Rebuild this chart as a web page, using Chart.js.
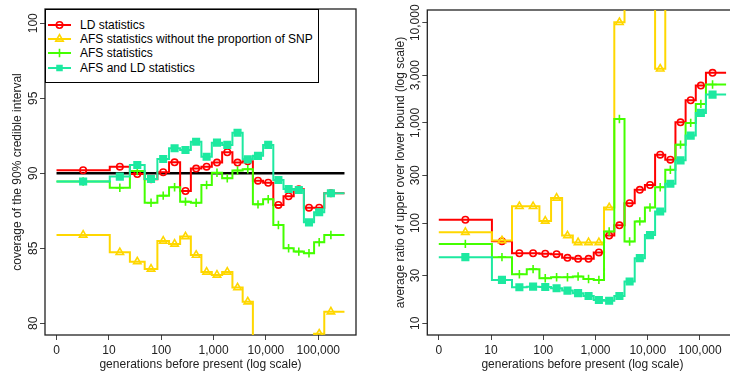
<!DOCTYPE html>
<html>
<head>
<meta charset="utf-8">
<script src="https://cdn.jsdelivr.net/npm/chart.js@4.4.1/dist/chart.umd.min.js"></script>
<style>
  html, body { margin: 0; padding: 0; width: 730px; height: 375px; overflow: hidden; background: #fff; }
  #left { position: absolute; left: 0; top: 0; }
  #right { position: absolute; left: 365px; top: 0; }
  #legend {
    position: absolute; left: 45px; top: 9px; width: 272px; height: 72px;
    border: 1px solid #000; background: #fff;
    font: 12px "Liberation Sans", Arial, sans-serif; color: #000;
  }
  #legend .row { position: absolute; left: 0; height: 14px; line-height: 14px; white-space: nowrap; }
  #legend canvas { position: absolute; left: 2px; top: 0; }
  #legend span { position: absolute; left: 34px; top: 0; }
</style>
</head>
<body>
<canvas id="left" width="365" height="375"></canvas>
<canvas id="right" width="385" height="375"></canvas>
<div id="legend"></div>
<script>
// time windows (generations), last one is open-ended
const windowEdges = [0, 9.4, 24.2, 47.3, 83.4, 140, 228.5, 367, 584, 924, 1455, 2288,
  3591, 5630, 8823, 13822, 21647, 33897, 53070, 83083, 130000];
const lineEnd = 316000;
const lastMarkerAt = 174000;

const xTickPos = [0, 1, 2, 3, 4, 5];
const xTickLabels = ["0", "10", "100", "1,000", "10,000", "100,000"];

// coverage of the 90% credible interval
const covLD = [90.2, 90.44, 89.95, 89.6, 90.07, 90.73, 88.82, 90.31, 90.44, 90.71, 91.4,
  90.71, 90.8, 89.51, 89.37, 87.89, 88.47, 88.93, 87.71, 87.71, 88.67];
const covAFSnoSNP = [85.89, 84.73, 84.11, 83.62, 85.49, 85.29, 85.78, 84.55, 83.42, 83.22,
  83.42, 82.38, 81.44, 78.6, 78.4, 78.2, 78.0, 78.3, 78.5, 79.3, 80.77];
const covAFS = [89.45, 89.04, 90.15, 88.04, 88.51, 89.07, 88.11, 88.04, 89.22, 90.04, 89.67,
  90.18, 90.27, 87.93, 88.27, 86.55, 85.0, 84.78, 84.67, 85.4, 85.89];
const covAFSLD = [89.45, 89.78, 90.55, 89.62, 90.95, 91.67, 91.55, 92.1, 91.1, 92.04, 91.89,
  92.7, 90.93, 91.16, 91.89, 89.55, 88.95, 88.89, 86.73, 87.4, 88.67];
const coverageTarget = 90;
const coverageTicks = [80, 85, 90, 95, 100];

// average ratio of upper over lower bound
const ratioLD = [108, 66, 50, 50, 49.5, 49, 45, 44, 44, 51, 75, 95, 158, 215, 240, 482,
  430, 1014, 1683, 2360, 3162];
const ratioAFSnoSNP = [81, 67, 147, 147, 105, 178, 75, 64, 64, 64, 143, 10100, 25000,
  30000, 20000, 3470, 30000, 40000, 50000, 60000, 40000];
const ratioAFS = [62, 45.7, 30.9, 34.7, 28.2, 28.8, 28.8, 29.3, 27.7, 27.1, 82.4, 1096,
  65.5, 104, 143, 228, 341, 607, 1000, 1549, 2415];
const ratioAFSLD = [45.7, 27.1, 22.9, 23.2, 23, 22.4, 21.2, 20, 18.75, 17.1, 16.8, 18.75,
  26.1, 44.7, 75.9, 130.6, 247, 423, 747, 1259, 1918];
const ratioTicks = [10, 30, 100, 300, 1000, 3000, 10000];
const ratioTickLabels = ["10", "30", "100", "300", "1,000", "3,000", "10,000"];

const FONT = { family: '"Liberation Sans", Arial, sans-serif', size: 12 };
const INK = "#222";

const series = [
  { label: "LD statistics", color: "#FF0000", style: "circle", radius: 3.2, solid: false },
  { label: "AFS statistics without the proportion of SNP", color: "#FFD700", style: "triangle", radius: 4.3, solid: false },
  { label: "AFS statistics", color: "#44FF00", style: "cross", radius: 4.2, solid: false },
  { label: "AFS and LD statistics", color: "#1DE9A0", style: "rect", radius: 4.6, solid: true },
];

const lx = (g) => Math.log10(1 + g);
const edgesX = windowEdges.map(lx);
const midsX = edgesX.map((e, i) => (i < edgesX.length - 1 ? (e + edgesX[i + 1]) / 2 : lx(lastMarkerAt)));

function stepPoints(vals) {
  const pts = vals.map((v, i) => ({ x: edgesX[i], y: v }));
  pts.push({ x: lx(lineEnd), y: vals[vals.length - 1] });
  return pts;
}

function markerPoints(vals) {
  return vals.map((v, i) => ({ x: midsX[i], y: v }));
}

function buildDatasets(valueSets) {
  const out = [];
  series.forEach((s, k) => {
    const order = series.length - k;
    out.push({
      data: markerPoints(valueSets[k]),
      showLine: false,
      pointStyle: s.style,
      pointRadius: s.radius,
      pointBorderWidth: 1.6,
      pointBorderColor: s.color,
      pointBackgroundColor: s.solid ? s.color : "rgba(0,0,0,0)",
      order: order,
    });
    out.push({
      data: stepPoints(valueSets[k]),
      stepped: true,
      borderColor: s.color,
      borderWidth: 2,
      pointRadius: 0,
      order: order,
    });
  });
  return out;
}

// box around the plot region and rotated y tick labels
const frame = {
  id: "frame",
  beforeDatasetsDraw(chart) {
    const { ctx, chartArea: a } = chart;
    ctx.save();
    ctx.strokeStyle = INK;
    ctx.lineWidth = 1.3;
    ctx.strokeRect(a.left, a.top, a.right - a.left, a.bottom - a.top);
    ctx.restore();
  },
  afterDraw(chart, args, opts) {
    const { ctx, chartArea: a } = chart;
    const y = chart.scales.y;
    ctx.save();
    ctx.fillStyle = INK;
    ctx.font = FONT.size + "px " + FONT.family;
    ctx.textAlign = "center";
    ctx.textBaseline = "middle";
    opts.ticks.forEach((v, i) => {
      ctx.save();
      ctx.translate(a.left - opts.gap, y.getPixelForValue(v));
      ctx.rotate(-Math.PI / 2);
      ctx.fillText(opts.labels[i], 0, 0);
      ctx.restore();
    });
    ctx.restore();
  },
};

function xScale() {
  return {
    type: "linear",
    bounds: "data",
    min: -0.22,
    max: 5.72,
    afterFit: (s) => { s.height = 40; },
    afterBuildTicks: (s) => { s.ticks = xTickPos.map((v) => ({ value: v })); },
    ticks: {
      callback: (v) => xTickLabels[xTickPos.indexOf(v)],
      font: FONT, color: INK, padding: 3, maxRotation: 0, autoSkip: false,
    },
    grid: { drawOnChartArea: false, tickLength: 5, color: "#444" },
    border: { display: false },
    title: {
      display: true, text: "generations before present (log scale)",
      font: FONT, color: INK, padding: { top: 0, bottom: 3 },
    },
  };
}

function yScale(extra, width, titleText, titleGap, ticks) {
  return Object.assign({
    bounds: "data",
    afterFit: (s) => { s.width = width; },
    afterBuildTicks: (s) => { s.ticks = ticks.map((v) => ({ value: v })); },
    ticks: { display: false },
    grid: { drawOnChartArea: false, tickLength: 5, color: "#444" },
    border: { display: false },
    title: {
      display: true, text: titleText, font: FONT, color: INK,
      padding: { top: titleGap, bottom: 0 },
    },
  }, extra);
}

function makeChart(el, datasets, y, padding, frameOpts) {
  return new Chart(el, {
    type: "line",
    data: { datasets: datasets },
    options: {
      responsive: false,
      animation: false,
      events: [],
      layout: { padding: padding },
      plugins: { legend: { display: false }, tooltip: { enabled: false }, frame: frameOpts },
      scales: { x: xScale(), y: y },
    },
    plugins: [frame],
  });
}

// left: coverage
const leftSets = buildDatasets([covLD, covAFSnoSNP, covAFS, covAFSLD]);
leftSets.push({
  data: [{ x: 0, y: coverageTarget }, { x: lx(lineEnd), y: coverageTarget }],
  borderColor: "#000", borderWidth: 2.5, pointRadius: 0, order: 10,
});
makeChart(
  document.getElementById("left"),
  leftSets,
  yScale({ type: "linear", min: 79.22, max: 100.95 }, 45,
    "coverage of the 90% credible interval", 10.3, coverageTicks),
  { left: 0, right: 9, top: 9, bottom: 0 },
  { ticks: coverageTicks, labels: coverageTicks.map(String), gap: 11 }
);

// right: interval width ratio
makeChart(
  document.getElementById("right"),
  buildDatasets([ratioLD, ratioAFSnoSNP, ratioAFS, ratioAFSLD]),
  yScale({ type: "logarithmic", min: 7.64, max: 13400 }, 62.3,
    "average ratio of upper over lower bound (log scale)", 28.3, ratioTicks),
  { left: 0, right: 12.4, top: 10, bottom: 0 },
  { ticks: ratioTicks, labels: ratioTickLabels, gap: 12 }
);

// legend
function drawMarker(ctx, s, x, y) {
  const r = s.radius;
  ctx.strokeStyle = s.color;
  ctx.fillStyle = s.color;
  ctx.lineWidth = 1.6;
  ctx.beginPath();
  if (s.style === "circle") {
    ctx.arc(x, y, r, 0, Math.PI * 2);
    ctx.stroke();
  } else if (s.style === "triangle") {
    const h = r * 1.5, w = r * Math.sqrt(3) / 2;
    ctx.moveTo(x, y - r);
    ctx.lineTo(x + w, y - r + h);
    ctx.lineTo(x - w, y - r + h);
    ctx.closePath();
    ctx.stroke();
  } else if (s.style === "cross") {
    ctx.moveTo(x - r, y); ctx.lineTo(x + r, y);
    ctx.moveTo(x, y - r); ctx.lineTo(x, y + r);
    ctx.stroke();
  } else {
    const h = r / Math.SQRT2;
    ctx.fillRect(x - h, y - h, 2 * h, 2 * h);
  }
}

const legend = document.getElementById("legend");
const rowTops = [8, 22, 36, 50.5];
series.forEach((s, i) => {
  const row = document.createElement("div");
  row.className = "row";
  row.style.top = rowTops[i] + "px";
  const icon = document.createElement("canvas");
  icon.width = 24; icon.height = 14;
  const c = icon.getContext("2d");
  c.strokeStyle = s.color; c.lineWidth = 2;
  c.beginPath(); c.moveTo(0, 7); c.lineTo(23, 7); c.stroke();
  drawMarker(c, s, 11.5, 7);
  const text = document.createElement("span");
  text.textContent = s.label;
  row.appendChild(icon);
  row.appendChild(text);
  legend.appendChild(row);
});
</script>
</body>
</html>
